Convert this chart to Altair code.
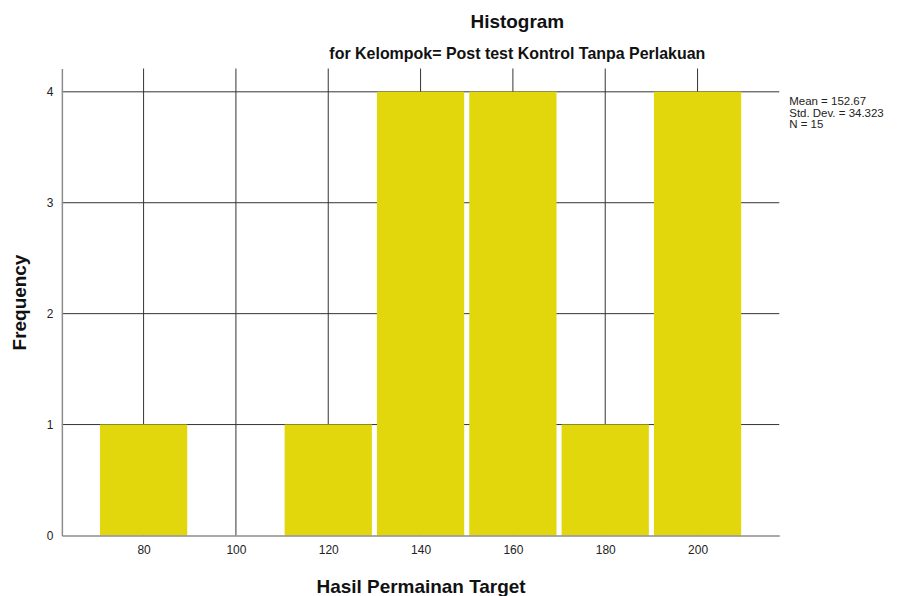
import altair as alt
import pandas as pd

# ---- data ----
bin_starts = [70, 90, 110, 130, 150, 170, 190]
bin_ends = [90, 110, 130, 150, 170, 190, 210]
counts = [1, 0, 1, 4, 4, 1, 4]
x_ticks = [80, 100, 120, 140, 160, 180, 200]
y_ticks = [0, 1, 2, 3, 4]
stats_lines = ["Mean = 152.67", "Std. Dev. = 34.323", "N = 15"]

title_text = "Histogram"
subtitle_text = "for Kelompok= Post test Kontrol Tanpa Perlakuan"
x_title = "Hasil Permainan Target"
y_title = "Frequency"

FONT = "Liberation Sans"
BAR_COLOR = "#E2D60D"
GRID_COLOR = "#333333"
AXIS_COLOR = "#8c8c8c"
GAP = 0.55  # visual gap between adjacent bars, in data units

bars = pd.DataFrame({"start": bin_starts, "end": bin_ends, "count": counts})
bars = bars[bars["count"] > 0].copy()
bars["lo"] = bars["start"] + GAP
bars["hi"] = bars["end"] - GAP

xscale = alt.Scale(domain=[62.3, 217.7], nice=False, zero=False)
yscale = alt.Scale(domain=[0, 4.21], nice=False)

xaxis = alt.Axis(values=x_ticks, title=x_title, grid=False, ticks=False, format="d",
                 labelPadding=9, labelFontSize=12, labelFont=FONT, labelColor="#222",
                 domainColor=AXIS_COLOR, domainWidth=1.5,
                 titleFont=FONT, titleFontSize=19, titleFontWeight="bold", titleColor="#111",
                 titleY=57, titleBaseline="alphabetic", zindex=1)
yaxis = alt.Axis(values=y_ticks, title=y_title, grid=False, ticks=False, format="d",
                 labelPadding=9, labelFontSize=12, labelFont=FONT, labelColor="#222",
                 domainColor=AXIS_COLOR, domainWidth=1.5,
                 titleFont=FONT, titleFontSize=19, titleFontWeight="bold", titleColor="#111",
                 titleX=-42, titleY=234, titleBaseline="middle", zindex=1)

vgrid = alt.Chart(pd.DataFrame({"x": x_ticks})).mark_rule(
    color=GRID_COLOR, strokeWidth=1
).encode(x=alt.X("x:Q", scale=xscale, axis=xaxis))

hgrid = alt.Chart(pd.DataFrame({"y": y_ticks})).transform_filter(
    alt.datum.y > 0
).mark_rule(color=GRID_COLOR, strokeWidth=1).encode(
    y=alt.Y("y:Q", scale=yscale, axis=yaxis)
)

bar_layer = alt.Chart(bars).mark_bar(color=BAR_COLOR, stroke=None).encode(
    x=alt.X("lo:Q", scale=xscale),
    x2="hi:Q",
    y=alt.Y("count:Q", scale=yscale),
    y2=alt.datum(0),
)

stats = alt.Chart(pd.DataFrame({"t": ["\n".join(stats_lines)]})).mark_text(
    align="left", baseline="alphabetic", font=FONT, fontSize=11.5,
    lineHeight=11.5, lineBreak="\n", color="#222"
).encode(text="t:N", x=alt.value(729), y=alt.value(37))

chart = alt.layer(vgrid, hgrid, bar_layer, stats).properties(
    width=719, height=468,
    autosize=alt.AutoSizeParams(type="none"),
    padding={"left": 54, "top": 60, "right": 117, "bottom": 60},
    title=alt.TitleParams(
        text=title_text, subtitle=subtitle_text, anchor="middle", dx=97,
        font=FONT, fontSize=19, fontWeight="bold", color="#111",
        subtitleFont=FONT, subtitleFontSize=16, subtitleFontWeight="bold",
        subtitleColor="#111", offset=6, subtitlePadding=14,
    ),
).configure_view(stroke=None)

chart.save("out.html", embed_options={"renderer": "svg", "actions": False})
